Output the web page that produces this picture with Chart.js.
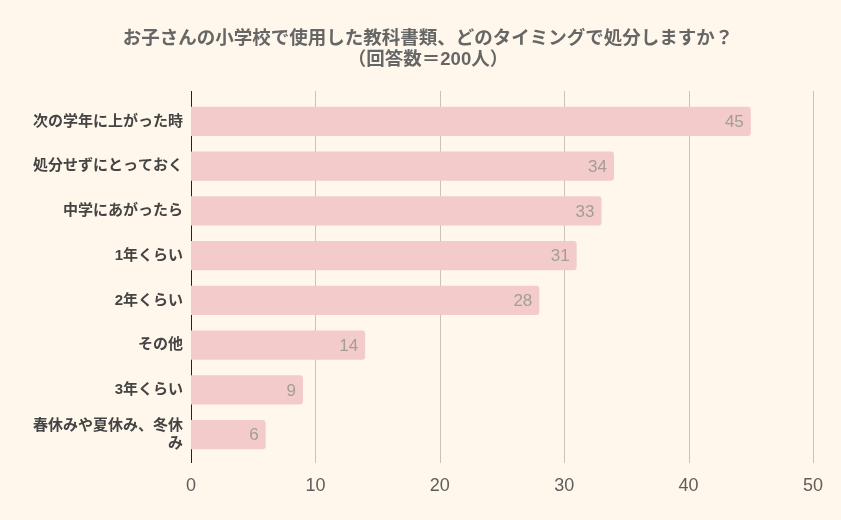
<!DOCTYPE html>
<html><head><meta charset="utf-8">
<script src="https://cdn.jsdelivr.net/npm/chart.js@4/dist/chart.umd.min.js"></script>
<style>html,body{margin:0;padding:0;background:#fff7eb;}#wrap{width:841px;height:520px;}</style>
</head><body><div id="wrap"><canvas id="c" width="841" height="520"></canvas></div>
<script>
const titleLines = ['お子さんの小学校で使用した教科書類、どのタイミングで処分しますか？', '（回答数＝200人）'];
const categories = ['次の学年に上がった時', '処分せずにとっておく', '中学にあがったら', '1年くらい', '2年くらい', 'その他', '3年くらい', '春休みや夏休み、冬休み'];
const values = [45, 34, 33, 31, 28, 14, 9, 6];
const xTicks = [0, 10, 20, 30, 40, 50];

const FONT = "'Liberation Sans', 'Noto Sans CJK JP', sans-serif";
const NARROW = "'Liberation Sans Narrow', 'Liberation Sans', sans-serif";

const bgPlugin = {
  id: 'bg',
  beforeDraw(chart) {
    const ctx = chart.ctx;
    ctx.save();
    ctx.fillStyle = '#fff7eb';
    ctx.fillRect(0, 0, chart.width, chart.height);
    ctx.restore();
  },
  beforeDatasetsDraw(chart) {
    const ctx = chart.ctx, a = chart.chartArea, x = chart.scales.x;
    ctx.save();
    ctx.lineWidth = 1;
    ctx.strokeStyle = '#cbc3ba';
    xTicks.forEach(v => {
      if (v === 0) return;
      const px = Math.round(x.getPixelForValue(v)) + 0.5;
      ctx.beginPath(); ctx.moveTo(px, a.top - 8); ctx.lineTo(px, a.bottom + 6); ctx.stroke();
    });
    ctx.strokeStyle = '#222';
    const p0 = Math.round(x.getPixelForValue(0)) + 0.5;
    ctx.beginPath(); ctx.moveTo(p0, a.top - 8); ctx.lineTo(p0, a.bottom + 6); ctx.stroke();
    ctx.restore();
  },
  afterDatasetsDraw(chart) {
    const ctx = chart.ctx;
    const meta = chart.getDatasetMeta(0);
    ctx.save();
    ctx.font = '17px ' + FONT;
    ctx.fillStyle = '#a39d98';
    ctx.textAlign = 'right';
    ctx.textBaseline = 'middle';
    meta.data.forEach((bar, i) => {
      ctx.fillText(String(values[i]), bar.x - 7, bar.y + 1);
    });
    // title
    ctx.font = 'bold 18.5px ' + FONT;
    ctx.fillStyle = '#666666';
    ctx.textAlign = 'center';
    titleLines.forEach((t, i) => ctx.fillText(t, 428, 39 + i * 21));
    ctx.restore();
  }
};

new Chart(document.getElementById('c'), {
  type: 'bar',
  data: {
    labels: categories,
    datasets: [{
      data: values,
      backgroundColor: '#f3cbcb',
      borderRadius: {topLeft: 0, bottomLeft: 0, topRight: 3, bottomRight: 3},
      borderSkipped: false,
      barPercentage: 0.65,
      categoryPercentage: 1
    }]
  },
  plugins: [bgPlugin],
  options: {
    indexAxis: 'y',
    responsive: false,
    animation: false,
    devicePixelRatio: 1,
    layout: {padding: {left: 0, right: 26, top: 99, bottom: 0}},
    plugins: {
      legend: {display: false},
      tooltip: {enabled: false},
      title: {display: false}
    },
    scales: {
      x: {
        min: 0, max: 50,
        afterBuildTicks(s) { s.ticks = xTicks.map(v => ({value: v})); },
        afterFit(s) { s.height = 63; },
        grid: {display: false, drawTicks: false},
        border: {display: false},
        ticks: {color: '#5e5e5e', font: {family: NARROW, size: 18}, padding: 18}
      },
      y: {
        afterFit(s) { s.width = 191; },
        grid: {display: false, drawTicks: false},
        border: {display: false},
        ticks: {
          color: '#444444',
          font: {family: FONT, size: 15, weight: 'bold', lineHeight: 1.2},
          padding: 8,
          callback(v, i) {
            const s = categories[i];
            return s.length > 10 ? [s.slice(0, 10), s.slice(10)] : s;
          }
        }
      }
    }
  }
});
</script></body></html>
